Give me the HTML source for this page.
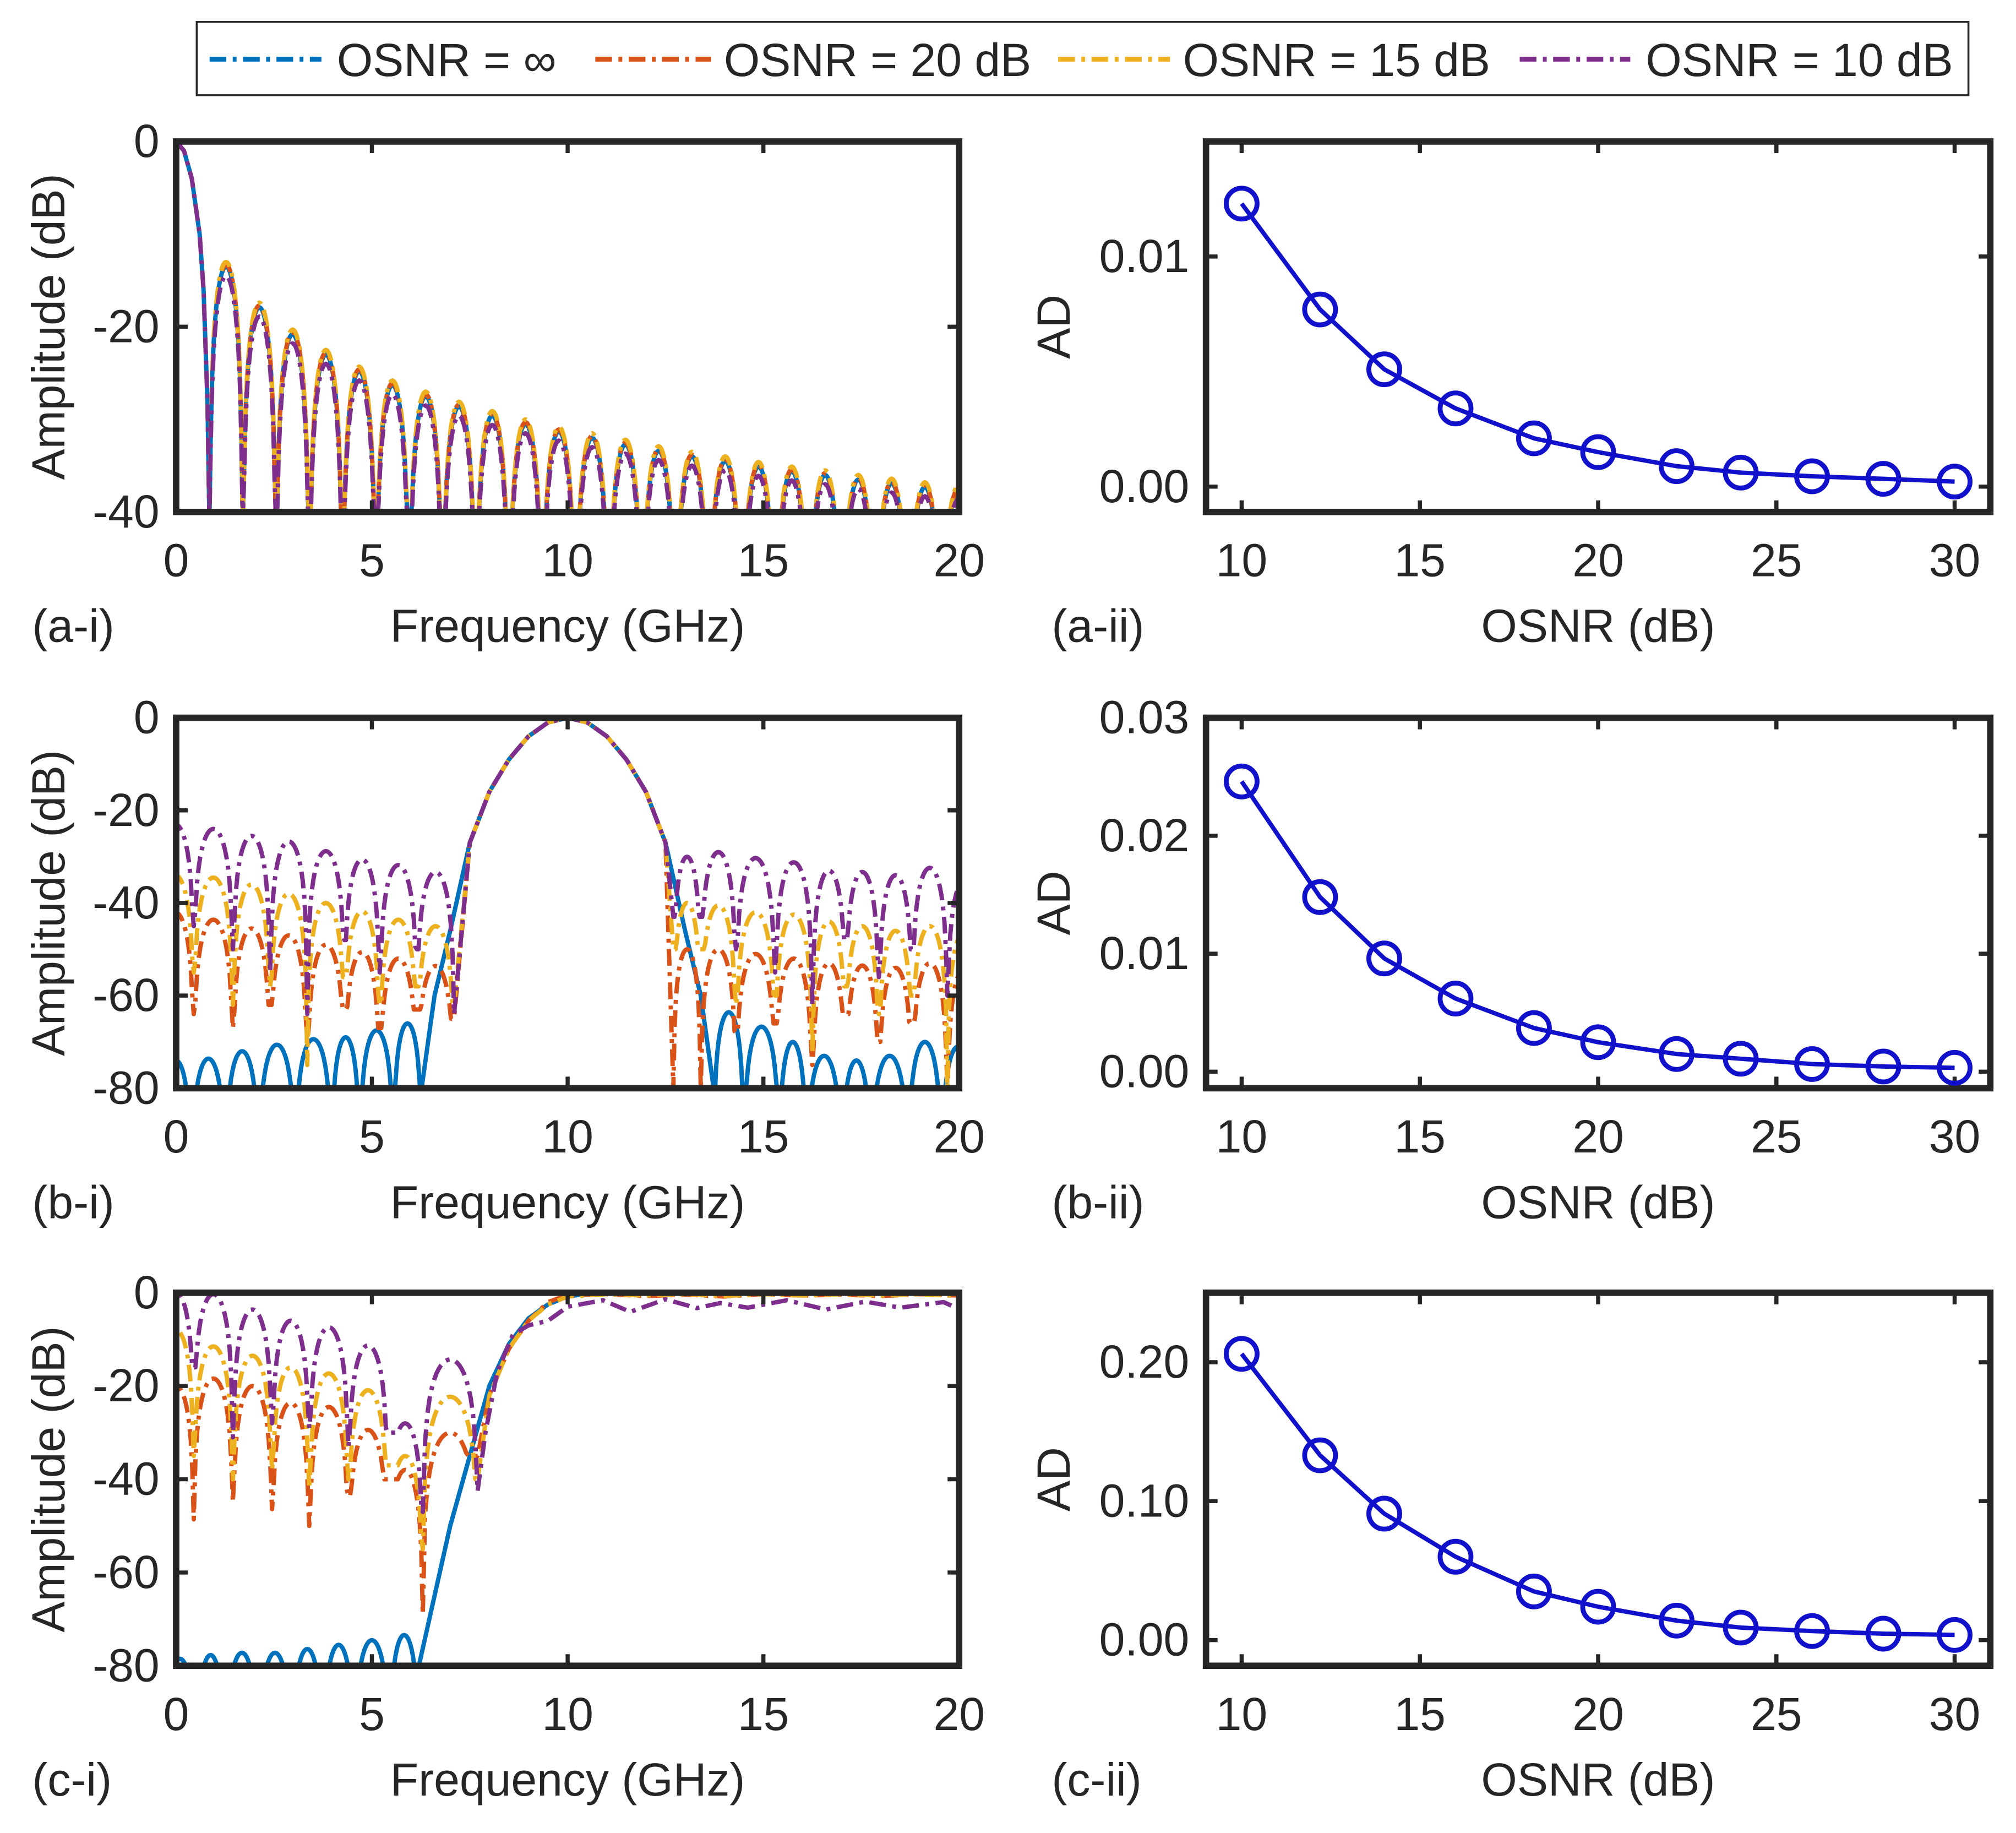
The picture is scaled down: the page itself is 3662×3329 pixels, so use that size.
<!DOCTYPE html>
<html><head><meta charset="utf-8"><style>
html,body{margin:0;padding:0;background:#fff;}
svg{display:block;}
text{font-family:"Liberation Sans",Arial,sans-serif;fill:#262626;}
</style></head><body>
<svg id="fig" width="3662" height="3329" viewBox="0 0 1568 1425" preserveAspectRatio="none" xmlns="http://www.w3.org/2000/svg">
<rect width="1568" height="1425" fill="#fff"/>
<g>
<rect x="153" y="17" width="1378" height="57" fill="#fff" stroke="#262626" stroke-width="1.5"/>
<line x1="163" y1="46" x2="250" y2="46" stroke="#0072BD" stroke-width="3.8" stroke-dasharray="13 5 3 5"/>
<text x="262" y="59" font-size="36">OSNR = ∞</text>
<line x1="463" y1="46" x2="553" y2="46" stroke="#D95319" stroke-width="3.8" stroke-dasharray="13 5 3 5"/>
<text x="563" y="59" font-size="36">OSNR = 20 dB</text>
<line x1="823" y1="46" x2="910" y2="46" stroke="#EDB120" stroke-width="3.8" stroke-dasharray="13 5 3 5"/>
<text x="920" y="59" font-size="36">OSNR = 15 dB</text>
<line x1="1182" y1="46" x2="1268" y2="46" stroke="#7E2F8E" stroke-width="3.8" stroke-dasharray="13 5 3 5"/>
<text x="1280" y="59" font-size="36">OSNR = 10 dB</text>
</g>
</svg>
<script>
// ---------- AD data ----------
const osnrX = [10,12.2,14,16,18.2,20,22.2,24,26,28,30];
const adA = [0.0123,0.0077,0.0051,0.0034,0.0021,0.0015,0.00089,0.00061,0.00045,0.00034,0.00022];
const adB = [0.0246,0.0148,0.0096,0.0062,0.0037,0.0025,0.0015,0.0011,0.00065,0.00044,0.00033];
const adC = [0.206,0.133,0.091,0.060,0.035,0.024,0.014,0.009,0.0065,0.0046,0.0037];
const adTicksA = ["0.00","0.01"];
const adTicksB = ["0.00","0.01","0.02","0.03"];
const adTicksC = ["0.00","0.10","0.20"];
const freqTicks = ["0","5","10","15","20"];
const osnrTicks = ["10","15","20","25","30"];

// ---------- Panel a spectra ----------
const aMainF = [0,0.2,0.4,0.6,0.7,0.8,0.85];
const aMainDB = [0,-1,-4,-10,-16,-28,-45];
const aNulls = [0.85,1.7,2.55,3.4,4.25,5.1,5.95,6.8,7.65,8.5,9.35,10.2,11.05,11.9,12.75,13.6,14.45,15.3,16.15,17.0,17.85,18.7,19.55,20.4];
const aPeaksInf = [-13.5,-17.9,-20.8,-23.0,-24.8,-26.3,-27.5,-28.6,-29.6,-30.5,-31.3,-32.0,-32.7,-33.4,-34.0,-34.5,-35.1,-35.6,-36.0,-36.5,-36.9,-37.3,-37.7];
const aOffset20 = 0.2, aOffset15 = 0.5, aOffset10 = -1.0;

// ---------- Panel b spectra ----------
const bMainF = [6.27,6.6,7.0,7.5,8,8.5,9,9.5,10,10.5,11,11.5,12,12.5,13,13.4,13.73];
const bMainDB = [-80,-60,-46,-27,-16,-9,-4,-1,0,-1,-4,-9,-16,-27,-46,-60,-80];
const bBlueNullsL = [-0.4,0.39,1.26,2.11,3.04,3.97,4.69,5.55,6.27];
const bBluePeaksL = [-74,-73.6,-72,-70.6,-69.4,-69,-67.5,-66];
const bBlueNullsR = [13.73,14.5,15.4,16.1,17.0,17.75,18.7,19.55,20.4];
const bBluePeaksR = [-63.6,-66.7,-70,-73,-74,-73,-70,-71];
const bNullsL = [-0.5,0.45,1.45,2.4,3.35,4.3,5.2,6.15,7.1];
const bNullsR = [12.7,13.4,14.3,15.3,16.25,17.1,17.95,18.8,19.7,20.6];
const bP10L = [-23,-24,-25.5,-26.7,-28.8,-30.6,-31.8,-33.3];
const bD10L = [-30,-45,-50,-55,-64,-48,-55,-50,-64];
const bP15L = [-34,-34.5,-36,-38,-40,-41.8,-43.6,-45];
const bD15L = [-40,-55,-62,-58,-75,-56,-62,-58,-62];
const bP20L = [-42,-43.6,-45.5,-47,-49,-50.6,-52,-53.6];
const bD20L = [-48,-64,-67,-62,-70,-63,-67,-63,-65];
const bP10R = [-30,-29,-30.3,-31.2,-33,-33.3,-34,-32.4,-35];
const bD10R = [-43,-43,-50,-55,-62,-48,-56,-50,-60,-50];
const bP15R = [-40,-40.5,-42,-42.5,-44,-45,-46,-45,-46];
const bD15R = [-50,-50,-62,-60,-72,-58,-64,-60,-80,-60];
const bP20R = [-50,-50,-51,-52,-53,-53.5,-54,-53,-54];
const bD20R = [-80,-80,-68,-66,-75,-64,-70,-66,-80,-66];

// ---------- Panel c spectra ----------
const cBlueNulls = [-0.3,0.5,1.26,2.1,2.95,3.75,4.55,5.45,6.2];
const cBluePeaks = [-78.5,-77.7,-77.2,-77.2,-76.4,-75.5,-74.5,-73.4];
const cBlueTailF = [6.2,6.6,7,7.5,8,8.5,9,9.5,10,10.5,11,20];
const cBlueTailDB = [-80,-65,-50,-35,-20,-11,-5.5,-2.5,-0.8,-0.2,0,0];
const cNulls = [-0.45,0.45,1.45,2.45,3.4,4.4,5.4,6.3,7.7];
const cP10 = [0,-0.3,-3.6,-6,-7.4,-11.3,-28,-14.3];
const cD10 = [-10,-16,-31,-28,-29,-33,-30,-47,-42.5];
const cP15 = [-8,-11.5,-13.5,-16,-17.3,-20.9,-35,-22.3];
const cD15 = [-20,-35,-40,-38,-42,-40,-37,-55,-40];
const cP20 = [-20,-18.4,-20,-23.6,-24.5,-29.4,-38,-30];
const cD20 = [-30,-48.6,-44.8,-46.4,-50,-43.7,-40,-69,-35];
const cTail10F = [7.7,7.9,8.2,8.6,9,9.5,10,10.9,11.6,12.5,13.3,13.9,14.6,15.6,16.6,17.6,18.5,19.6,20];
const cTail10DB = [-42.5,-30,-17,-9,-7,-6,-3,-1.6,-4.1,-1.4,-3.3,-2.2,-3.2,-1.6,-3.6,-1.9,-3.2,-2.0,-3.5];
const cTail15F = [7.7,8,8.5,9,9.5,10,11,12,13,14,15,16,17,18,19,20];
const cTail15DB = [-40,-22,-12,-6,-2.5,-0.8,-0.3,-0.6,-0.3,-0.7,-0.3,-0.6,-0.3,-0.6,-0.3,-0.7];
const cTail20F = [7.7,8,8.5,9,9.5,10,11,12,13,14,15,16,17,18,19,20];
const cTail20DB = [-35,-22,-12,-6,-2,-0.5,-0.3,-0.7,-0.4,-0.8,-0.3,-0.6,-0.4,-0.7,-0.3,-0.6];

const NS = "http://www.w3.org/2000/svg";
const svg = document.getElementById('fig');
const C = {inf:"#0072BD", d20:"#D95319", d15:"#EDB120", d10:"#7E2F8E", ad:"#1111CC"};
let clipId = 0;

function el(tag, attrs, parent){
  const e = document.createElementNS(NS, tag);
  for (const k in attrs) e.setAttribute(k, attrs[k]);
  (parent||svg).appendChild(e);
  return e;
}

function axes(name, x0, x1, y0, y1, xlim, ylim, xt, xtl, yt, ytl, xlabel, ylabel, panel){
  const g = el('g', {});
  
  
  const sx = v => x0 + (v - xlim[0]) / (xlim[1] - xlim[0]) * (x1 - x0);
  const sy = v => y1 - (v - ylim[0]) / (ylim[1] - ylim[0]) * (y1 - y0);
  const id = 'clip' + (clipId++);
  const cp = el('clipPath', {id: id}, g);
  el('rect', {x: x0, y: y0, width: x1 - x0, height: y1 - y0}, cp);
  const plot = el('g', {'clip-path': 'url(#' + id + ')'}, g);
  
  
  const frame = el('g', {}, g);
  xt.forEach((v, i) => {
    const x = sx(v);
    el('line', {x1: x, y1: y1, x2: x, y2: y1 - 9, stroke: '#262626', 'stroke-width': 3.2}, frame);
    el('line', {x1: x, y1: y0, x2: x, y2: y0 + 9, stroke: '#262626', 'stroke-width': 3.2}, frame);
    const t = el('text', {x: x, y: y1 + 50, 'font-size': 36, 'text-anchor': 'middle'}, g);
    t.textContent = xtl[i];
    
    
  });
  yt.forEach((v, i) => {
    const y = sy(v);
    el('line', {x1: x0, y1: y, x2: x0 + 9, y2: y, stroke: '#262626', 'stroke-width': 3.2}, frame);
    el('line', {x1: x1, y1: y, x2: x1 - 9, y2: y, stroke: '#262626', 'stroke-width': 3.2}, frame);
    const t = el('text', {x: x0 - 13, y: y + 12, 'font-size': 36, 'text-anchor': 'end'}, g);
    t.textContent = ytl[i];
    
    
  });
  el('rect', {x: x0, y: y0, width: x1 - x0, height: y1 - y0, fill: 'none', stroke: '#262626', 'stroke-width': 5}, frame);
  const xl = el('text', {x: (x0 + x1) / 2, y: y1 + 101, 'font-size': 36, 'text-anchor': 'middle'}, g);
  xl.textContent = xlabel;
  
  
  const ycx = x0 - (ylabel === 'AD' ? 106 : 87), ycy = (y0 + y1) / 2;
  const yl = el('text', {x: ycx, y: ycy, 'font-size': 36, 'text-anchor': 'middle', transform: 'rotate(-90 ' + ycx + ' ' + ycy + ')'}, g);
  yl.textContent = ylabel;
  
  
  const pl = el('text', {x: x0 - (ylabel === 'AD' ? 120 : 112), y: y1 + 101, 'font-size': 36}, g);
  pl.textContent = panel;
  
  
  return {sx, sy, plot, ylim};
}

// lobe shape between nulls, peak p; depths (optional) are floor levels at each null
function lobes(nulls, peaks, depths, offset){
  const pts = [];
  for (let i = 0; i < peaks.length; i++){
    const a = nulls[i], b = nulls[i+1];
    const p = peaks[i] + (offset || 0);
    for (let k = 0; k <= 24; k++){
      const t = k / 24;
      const d = depths ? (t < 0.5 ? depths[i] : depths[i+1]) : -200;
      const fl = Math.pow(10, Math.min(d - p, 0) / 20);
      const s = Math.max(Math.sin(Math.PI * t), fl);
      pts.push([a + (b - a) * t, p + 20 * Math.log10(s)]);
    }
  }
  return pts;
}
function pairs(f, v){ return f.map((x, i) => [x, v[i]]); }

function drawLine(ax, pts, color, dashed, name){
  const lo = ax.ylim[0];
  const d = pts.map((p, i) => (i ? 'L' : 'M') + ax.sx(p[0]).toFixed(2) + ' ' + ax.sy(Math.max(p[1], lo - 1)).toFixed(2)).join(' ');
  const attrs = {d: d, fill: 'none', stroke: color, 'stroke-width': 3.4, 'stroke-linejoin': 'round'};
  if (dashed) attrs['stroke-dasharray'] = '13 5 3 5';
  const path = el('path', attrs, ax.plot);
  
  
}

function adPlot(ax, vals, name){
  drawLine(ax, pairs(osnrX, vals), C.ad, false, name + '-line');
  osnrX.forEach((x, i) => {
    const c = el('circle', {cx: ax.sx(x), cy: ax.sy(vals[i]), r: 12, fill: 'none', stroke: C.ad, 'stroke-width': 3.8}, ax.plot.parentNode);
    
    
  });
}

const fT = [0,5,10,15,20], oT = [10,15,20,25,30];
// Row a
const A1 = axes('spectrum-a-i', 137, 746, 110, 398, [0,20], [-40,0], fT, freqTicks, [-40,-20,0], ["-40","-20","0"], 'Frequency (GHz)', 'Amplitude (dB)', '(a-i)');
drawLine(A1, pairs(aMainF, aMainDB).concat(lobes(aNulls, aPeaksInf, null, 0)), C.inf, false, 'series-osnr-inf');
drawLine(A1, pairs(aMainF, aMainDB).concat(lobes(aNulls, aPeaksInf, null, aOffset20)), C.d20, true, 'series-osnr-20db');
drawLine(A1, pairs(aMainF, aMainDB).concat(lobes(aNulls, aPeaksInf, null, aOffset15)), C.d15, true, 'series-osnr-15db');
drawLine(A1, pairs(aMainF, aMainDB).concat(lobes(aNulls, aPeaksInf, null, aOffset10)), C.d10, true, 'series-osnr-10db');
const A2 = axes('ad-a-ii', 938, 1548, 110, 398, [9,31], [-0.0011,0.015], oT, osnrTicks, [0,0.01], adTicksA, 'OSNR (dB)', 'AD', '(a-ii)');
adPlot(A2, adA, 'ad-a');

// Row b
const B1 = axes('spectrum-b-i', 137, 746, 558, 846, [0,20], [-80,0], fT, freqTicks, [-80,-60,-40,-20,0], ["-80","-60","-40","-20","0"], 'Frequency (GHz)', 'Amplitude (dB)', '(b-i)');
drawLine(B1, lobes(bBlueNullsL, bBluePeaksL).concat(pairs(bMainF, bMainDB), lobes(bBlueNullsR, bBluePeaksR)), C.inf, false, 'series-osnr-inf');
function bMainPart(){ return pairs(bMainF, bMainDB).filter(p => p[0] >= 7.1 && p[0] <= 12.7); }
drawLine(B1, lobes(bNullsL, bP20L, bD20L).concat(bMainPart(), lobes(bNullsR, bP20R, bD20R)), C.d20, true, 'series-osnr-20db');
drawLine(B1, lobes(bNullsL, bP15L, bD15L).concat(bMainPart(), lobes(bNullsR, bP15R, bD15R)), C.d15, true, 'series-osnr-15db');
drawLine(B1, lobes(bNullsL, bP10L, bD10L).concat(bMainPart(), lobes(bNullsR, bP10R, bD10R)), C.d10, true, 'series-osnr-10db');
const B2 = axes('ad-b-ii', 938, 1548, 558, 846, [9,31], [-0.0014,0.03], oT, osnrTicks, [0,0.01,0.02,0.03], adTicksB, 'OSNR (dB)', 'AD', '(b-ii)');
adPlot(B2, adB, 'ad-b');

// Row c
const C1 = axes('spectrum-c-i', 137, 746, 1005, 1295, [0,20], [-80,0], fT, freqTicks, [-80,-60,-40,-20,0], ["-80","-60","-40","-20","0"], 'Frequency (GHz)', 'Amplitude (dB)', '(c-i)');
drawLine(C1, lobes(cBlueNulls, cBluePeaks).concat(pairs(cBlueTailF, cBlueTailDB)), C.inf, false, 'series-osnr-inf');
drawLine(C1, lobes(cNulls, cP20, cD20).concat(pairs(cTail20F, cTail20DB)), C.d20, true, 'series-osnr-20db');
drawLine(C1, lobes(cNulls, cP15, cD15).concat(pairs(cTail15F, cTail15DB)), C.d15, true, 'series-osnr-15db');
drawLine(C1, lobes(cNulls, cP10, cD10).concat(pairs(cTail10F, cTail10DB)), C.d10, true, 'series-osnr-10db');
const C2 = axes('ad-c-ii', 938, 1548, 1005, 1295, [9,31], [-0.0185,0.25], oT, osnrTicks, [0,0.1,0.2], adTicksC, 'OSNR (dB)', 'AD', '(c-ii)');
adPlot(C2, adC, 'ad-c');
</script>
</body></html>
